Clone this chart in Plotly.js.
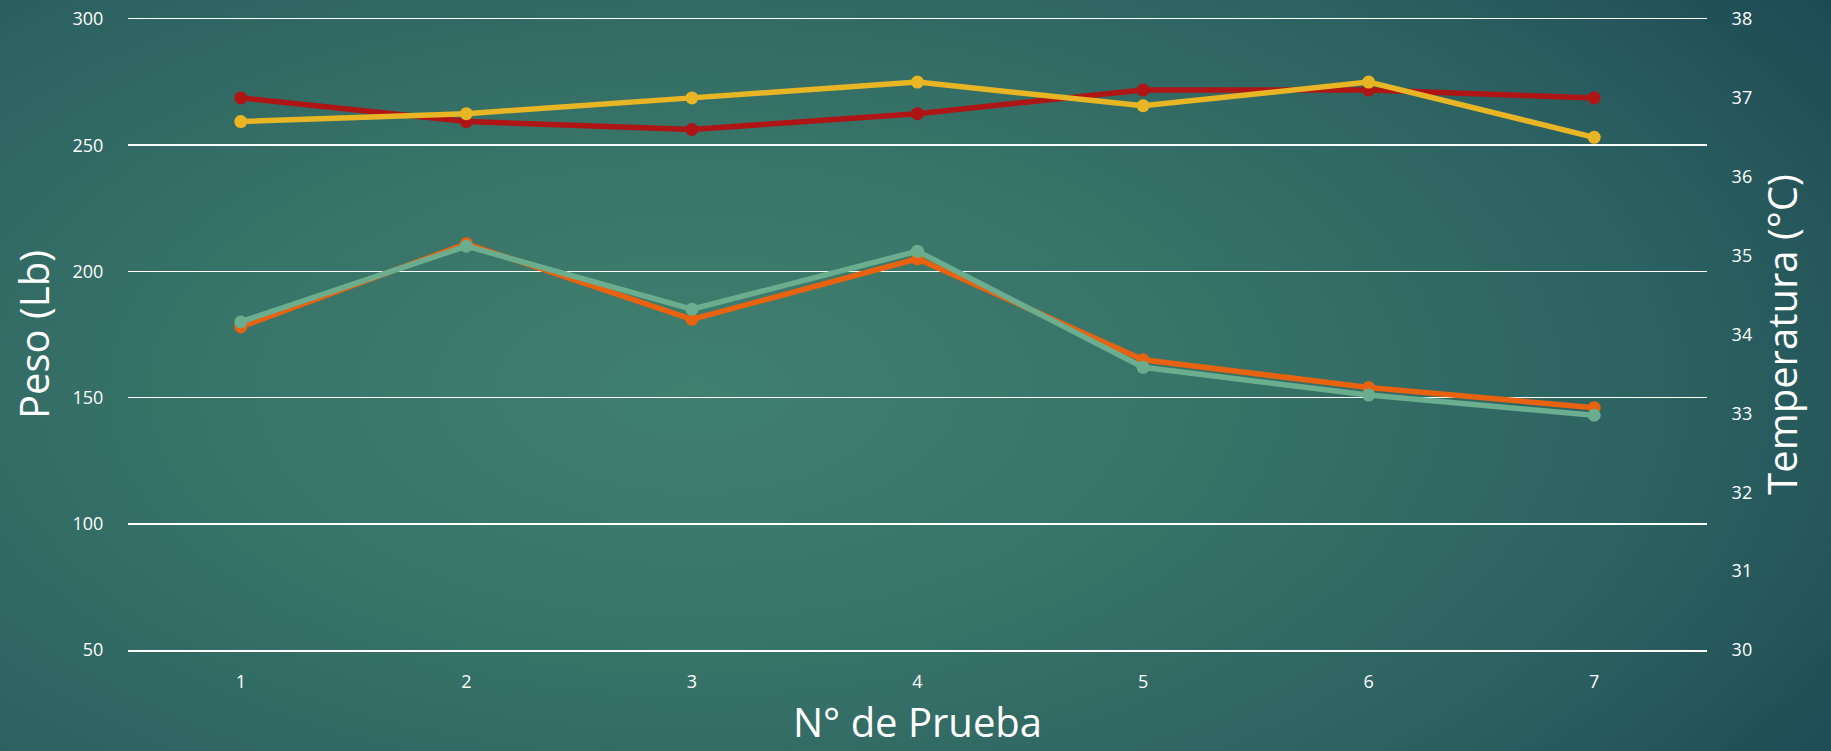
<!DOCTYPE html>
<html>
<head>
<meta charset="utf-8">
<script src="https://cdn.plot.ly/plotly-3.0.1.min.js"></script>
<style>
  html, body { margin: 0; padding: 0; width: 1831px; height: 751px; overflow: hidden; }
  body {
    background: radial-gradient(ellipse 75% 95% at 38% 52%, #40806f 0%, #387468 35%, #2c6261 70%, #1d4a54 100%);
  }
  #chart { width: 1831px; height: 751px; }
</style>
</head>
<body>
<div id="chart"></div>
<script>
const pruebas = [1, 2, 3, 4, 5, 6, 7];
const pesoNaranja = [178, 211, 181, 205, 165, 154, 146];
const pesoVerde = [180, 210, 185, 208, 162, 151, 143];
const tempRoja = [37.0, 36.7, 36.6, 36.8, 37.1, 37.1, 37.0];
const tempAmarilla = [36.7, 36.8, 37.0, 37.2, 36.9, 37.2, 36.5];
const pesoTicks = [50, 100, 150, 200, 250, 300];
const tempTicks = [30, 31, 32, 33, 34, 35, 36, 37, 38];
const tituloX = 'N° de Prueba';

const FONT = '"Open Sans", Lato, "DejaVu Sans", sans-serif';

function serie(y, color, axis, name) {
  return {
    x: pruebas, y: y, name: name, yaxis: axis, type: 'scatter', mode: 'lines+markers',
    line: { color: color, width: 5.5 },
    marker: { color: color, size: 13 },
    showlegend: false
  };
}

const data = [
  serie(pesoNaranja, '#e8620f', 'y', 'Peso 1'),
  serie(pesoVerde, '#6aae8f', 'y', 'Peso 2'),
  serie(tempRoja, '#b01515', 'y2', 'Temperatura 1'),
  serie(tempAmarilla, '#e8b525', 'y2', 'Temperatura 2')
];

const layout = {
  width: 1831, height: 751,
  paper_bgcolor: 'rgba(0,0,0,0)',
  plot_bgcolor: 'rgba(0,0,0,0)',
  margin: { l: 128, r: 124, t: 19, b: 101 },
  font: { family: FONT, color: '#ffffff', size: 18 },
  xaxis: {
    range: [0.5, 7.5],
    tickvals: pruebas,
    ticktext: pruebas.map(String),
    showgrid: false, zeroline: false,
    showline: true, mirror: true, linecolor: '#ffffff', linewidth: 1.5,
    ticks: 'outside', ticklen: 15, tickcolor: 'rgba(0,0,0,0)',
    tickfont: { family: FONT, size: 18, color: '#ffffff' }
  },
  yaxis: {
    range: [50, 300],
    tickvals: pesoTicks,
    showgrid: true, gridcolor: '#ffffff', gridwidth: 1.5,
    zeroline: false, showline: false,
    ticks: 'outside', ticklen: 20, tickcolor: 'rgba(0,0,0,0)',
    tickfont: { family: FONT, size: 18, color: '#ffffff' },
    title: { text: 'Peso (Lb)', font: { family: FONT, size: 40, color: '#ffffff' }, standoff: 10 }
  },
  yaxis2: {
    range: [30, 38],
    tickvals: tempTicks,
    overlaying: 'y', side: 'right',
    showgrid: false, zeroline: false, showline: false,
    ticks: 'outside', ticklen: 20, tickcolor: 'rgba(0,0,0,0)',
    tickfont: { family: FONT, size: 18, color: '#ffffff' },
    title: { text: 'Temperatura (°C)', font: { family: FONT, size: 40, color: '#ffffff' }, standoff: 17 }
  },
  annotations: [{
    text: tituloX, xref: 'paper', yref: 'paper', x: 0.5, y: 0,
    xanchor: 'center', yanchor: 'middle', yshift: -71, showarrow: false,
    font: { family: FONT, size: 40, color: '#ffffff' }
  }]
};

Plotly.newPlot('chart', data, layout, { displayModeBar: false, staticPlot: true });
</script>
</body>
</html>
